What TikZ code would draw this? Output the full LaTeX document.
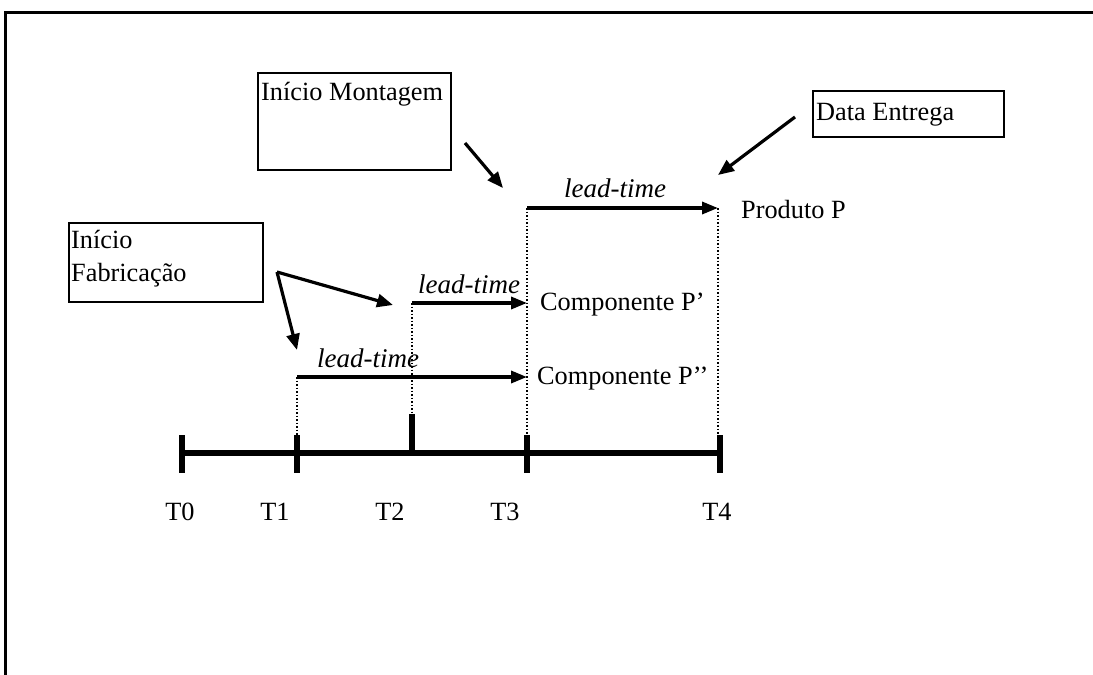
\documentclass[tikz,border=0pt]{standalone}
\usepackage{fontspec}
\setmainfont{Liberation Serif}
\usetikzlibrary{arrows.meta}
\begin{document}
\begin{tikzpicture}[x=1pt,y=-1pt,
  txt/.style={font=\fontsize{26.3}{33}\selectfont, inner sep=0pt},
  ltxt/.style={font=\fontsize{27}{33}\selectfont\itshape, inner sep=0pt},
  boxed/.style={draw, line width=2.4pt, inner sep=0pt},
  ptr/.style={line width=3.2pt, -{Triangle[length=16pt,width=13pt]}},
  lt/.style={line width=3.4pt, -{Triangle[length=16pt,width=12pt]}},
  guide/.style={line width=1.5pt, dotted},
  axis/.style={line width=6pt},
  tick/.style={line width=6pt}]
\useasboundingbox (0,0) rectangle (1093,675);
% frame
\draw[line width=3pt] (5,675) -- (5,12) -- (1093,12);
% boxes
\node[boxed, anchor=north west, minimum width=193pt, minimum height=97pt] (mont) at (257,72) {};
\node[txt, anchor=north west] (montT) at ([xshift=4pt,yshift=-10pt]mont.north west) {Início Montagem};
\node[boxed, anchor=north west, minimum width=191pt, minimum height=46pt] (entr) at (812,90) {};
\node[txt, anchor=west] (entrT) at ([xshift=4pt,yshift=-1pt]entr.west) {Data Entrega};
\node[boxed, anchor=north west, minimum width=194pt, minimum height=79pt] (fab) at (68,222) {};
\node[txt, anchor=north west, align=left] (fabT) at ([xshift=3pt,yshift=-8pt]fab.north west) {Início\\Fabricação};
% timeline
\coordinate (t0) at (182,453);
\coordinate (t1) at (297,453);
\coordinate (t2) at (412,453);
\coordinate (t3) at (527,453);
\coordinate (t4) at (720,453);
\draw[axis] (t0) -- (t4);
\foreach \t in {t0,t1,t3,t4} \draw[tick] ([yshift=18pt]\t) -- ([yshift=-20pt]\t);
\draw[tick] (t2) -- ([yshift=39pt]t2);
\node[txt] (l0) at (180,512) {T0};
\node[txt] (l1) at (275,512) {T1};
\node[txt] (l2) at (390,512) {T2};
\node[txt] (l3) at (505,512) {T3};
\node[txt] (l4) at (717,512) {T4};
% lead-time arrows
\coordinate (a0) at (527,208);
\coordinate (a1) at (718,208);
\coordinate (b0) at (412,303);
\coordinate (b1) at (527,303);
\coordinate (c0) at (297,377);
\coordinate (c1) at (527,377);
\draw[guide] (a0) -- ([yshift=18pt]t3);
\draw[guide] (a1) -- ([xshift=-2pt,yshift=18pt]t4);
\draw[guide] (b0) -- ([yshift=39pt]t2);
\draw[guide] (c0) -- ([yshift=18pt]t1);
\draw[lt] (a0) -- (a1);
\draw[lt] (b0) -- (b1);
\draw[lt] (c0) -- (c1);
\node[ltxt] (lta) at (615,188) {lead-time};
\node[ltxt] (ltb) at (469,284) {lead-time};
\node[ltxt] (ltc) at (368,358) {lead-time};
\node[txt, anchor=west] (prod) at (741,210) {Produto P};
\node[txt, anchor=west] (comp1) at (540,305) {Componente P’};
\node[txt, anchor=west] (comp2) at (537,379) {Componente P’’};
% pointer arrows
\coordinate (pm) at (503,188);
\coordinate (pe) at (718,175);
\coordinate (pf1) at (393,305);
\coordinate (pf2) at (297,350);
\coordinate (fo) at (277,272);
\draw[ptr] (465,143) -- (pm);
\draw[ptr] (795,117) -- (pe);
\draw[ptr] (fo) -- (pf1);
\draw[ptr] (fo) -- (pf2);
\end{tikzpicture}
\end{document}
